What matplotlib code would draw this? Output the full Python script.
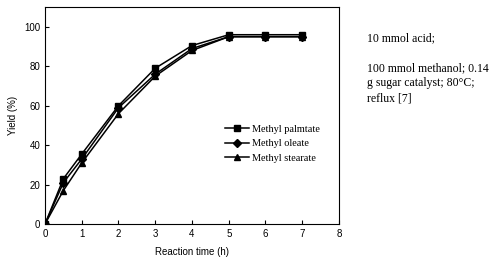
import matplotlib
matplotlib.use('Agg')
import matplotlib.pyplot as plt

# data
time = [0, 0.5, 1, 2, 3, 4, 5, 6, 7]
palmitate = [0, 23, 35.5, 60, 79, 90.5, 96, 96, 96]
oleate = [0, 21, 33, 59, 76, 89, 95, 95, 95]
stearate = [0, 17, 31, 56, 75, 88, 95, 95, 95]

fig = plt.figure(figsize=(5, 2.63), dpi=100)
ax = fig.add_axes([0.09, 0.148, 0.588, 0.825])

ax.plot(time, palmitate, color='black', marker='s', markersize=3.8, lw=1.1, label='Methyl palmtate')
ax.plot(time, oleate, color='black', marker='D', markersize=3.6, lw=1.1, label='Methyl oleate')
ax.plot(time, stearate, color='black', marker='^', markersize=4, lw=1.1, label='Methyl stearate')

ax.set_xlim(0, 8)
ax.set_ylim(0, 110)
ax.set_xticks(range(0, 9))
ax.set_yticks(range(0, 101, 20))
ax.tick_params(direction='in', length=3, labelsize=7, colors='black')
for lab in ax.get_xticklabels() + ax.get_yticklabels():
    lab.set_family('Liberation Sans')
ax.set_xlabel('Reaction time (h)', fontsize=7, family='Liberation Sans', labelpad=6)
ax.set_ylabel('Yield (%)', fontsize=7, family='Liberation Sans', labelpad=4)

ax.legend(loc='upper left', bbox_to_anchor=(0.58, 0.5), frameon=False,
          prop={'family': 'Liberation Serif', 'size': 7.4}, handlelength=2.4,
          handletextpad=0.25, labelspacing=0.5)

fig.text(0.734, 0.855, '10 mmol acid;', family='Liberation Serif', fontsize=8.5, va='center')
fig.text(0.734, 0.683, '100 mmol methanol; 0.14\ng sugar catalyst; 80\u00b0C;\nreflux [7]',
         family='Liberation Serif', fontsize=8.5, va='center', linespacing=1.3)

fig.savefig('out.png', dpi=100)
